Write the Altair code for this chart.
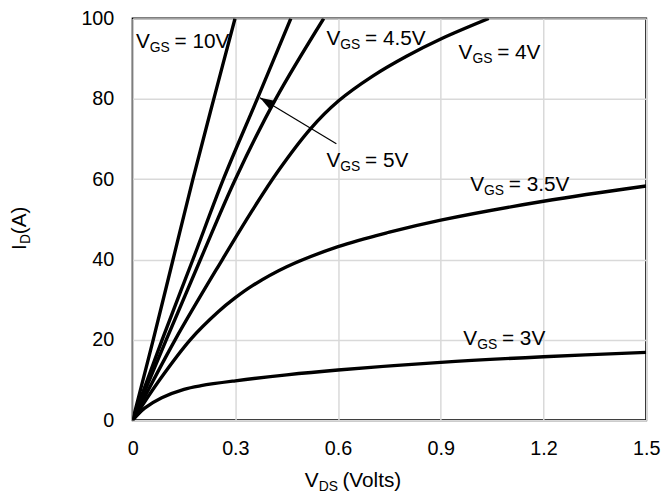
import altair as alt
import pandas as pd

FONT = "Arial"

# ---- curve data (VDS in volts, ID in amps) ----
id_levels = [0, 20, 40, 60, 80, 100]
vds_10v = [0, 0.060, 0.118, 0.176, 0.237, 0.299]
vds_5v = [0, 0.086, 0.176, 0.265, 0.364, 0.462]
vds_4p5v = [0, 0.098, 0.198, 0.300, 0.418, 0.558]
vds_4v = [0, 0.124, 0.262, 0.350, 0.423, 0.520, 0.600, 0.700, 0.800, 0.900, 1.040]
id_4v = [0, 20, 40, 52.3, 61.8, 72.6, 79.4, 85.6, 90.6, 94.9, 100]
vds_3p5v = [0, 0.08, 0.17, 0.25, 0.30, 0.35, 0.45, 0.60, 0.75, 0.90, 1.20, 1.50]
id_3p5v = [0, 10.2, 20.2, 27.0, 30.5, 33.5, 38.2, 43.2, 46.8, 49.8, 54.5, 58.3]
vds_3v = [0, 0.035, 0.085, 0.15, 0.20, 0.30, 0.45, 0.60, 0.90, 1.20, 1.50]
id_3v = [0, 3.0, 5.6, 7.7, 8.6, 9.8, 11.3, 12.5, 14.4, 15.8, 16.9]

x_ticks = [0, 0.3, 0.6, 0.9, 1.2, 1.5]
y_ticks = [0, 20, 40, 60, 80, 100]

# ---- curve labels ----
label_rest = ["= 10V", "= 4.5V", "= 4V", "= 5V", "= 3.5V", "= 3V"]
label_x = [0.0095, 0.566, 0.952, 0.566, 0.986, 0.966]
label_y = [92.6, 93.3, 90.0, 63.1, 57.1, 18.7]

# ---- arrow (points to VGS = 5V curve) ----
arrow_from = (0.595, 68.8)
arrow_to = (0.372, 80.3)

curves = [
    ("10V", vds_10v, id_levels),
    ("5V", vds_5v, id_levels),
    ("4.5V", vds_4p5v, id_levels),
    ("4V", vds_4v, id_4v),
    ("3.5V", vds_3p5v, id_3p5v),
    ("3V", vds_3v, id_3v),
]
rows = []
for name, xs, ys in curves:
    for xv, yv in zip(xs, ys):
        rows.append({"vgs": name, "vds": xv, "id": yv})
df = pd.DataFrame(rows)

labels = pd.DataFrame({"x": label_x, "y": label_y, "rest": label_rest})
arrow = pd.DataFrame({"x0": [arrow_from[0]], "y0": [arrow_from[1]],
                      "x1": [arrow_to[0]], "y1": [arrow_to[1]]})

xscale = alt.Scale(domain=[0, 1.5], nice=False, zero=False)
yscale = alt.Scale(domain=[0, 100], nice=False, zero=False)

xaxis = alt.Axis(values=x_ticks, format="~g", title=None, ticks=False, domain=False,
                 labelFont=FONT, labelFontSize=20, labelColor="black", labelPadding=19,
                 grid=True, gridColor="#d9d9d9", gridWidth=1.5, labelFlush=False)
yaxis = alt.Axis(values=y_ticks, title=None, ticks=False, domain=False,
                 labelFont=FONT, labelFontSize=20, labelColor="black", labelPadding=19,
                 grid=True, gridColor="#d9d9d9", gridWidth=1.5, labelFlush=False)


def X(field):
    return alt.X(field, type="quantitative", scale=xscale, axis=xaxis)


def Y(field):
    return alt.Y(field, type="quantitative", scale=yscale, axis=yaxis)


lines = alt.Chart(df).mark_line(color="black", strokeWidth=3.4, interpolate="catmull-rom", clip=True).encode(
    x=X("vds"), y=Y("id"), detail="vgs:N", order="vds:Q",
)

LSIZE = 21
SSIZE = 14
tbase = alt.Chart(labels).encode(x=X("x"), y=Y("y"))
t_main = tbase.mark_text(text="V", align="left", baseline="alphabetic", font=FONT, fontSize=LSIZE, color="black")
t_sub = tbase.mark_text(text="GS", align="left", baseline="alphabetic", font=FONT, fontSize=SSIZE, color="black",
                        dx=14, dy=4)
t_rest = tbase.mark_text(align="left", baseline="alphabetic", font=FONT, fontSize=LSIZE, color="black",
                         dx=39).encode(text="rest:N")

arrow_line = alt.Chart(arrow).mark_rule(color="black", strokeWidth=1.2).encode(
    x=X("x0"), y=Y("y0"), x2="x1:Q", y2="y1:Q")
arrow_head = alt.Chart(arrow).mark_point(shape="M0,0L-0.7,2L0.7,2Z", size=200, filled=True,
                                         color="black", opacity=1, strokeWidth=0, angle=301).encode(
    x=X("x1"), y=Y("y1"))

# axis titles with subscripts
tt = pd.DataFrame({"k": [0]})
xt_main = alt.Chart(tt).mark_text(text="V", align="left", baseline="alphabetic", font=FONT, fontSize=LSIZE,
                                  color="black").encode(x=alt.value(174), y=alt.value(474))
xt_sub = alt.Chart(tt).mark_text(text="DS", align="left", baseline="alphabetic", font=FONT, fontSize=SSIZE,
                                 color="black", dx=14, dy=4).encode(x=alt.value(174), y=alt.value(474))
xt_rest = alt.Chart(tt).mark_text(text="(Volts)", align="left", baseline="alphabetic", font=FONT, fontSize=LSIZE,
                                  color="black", dx=38).encode(x=alt.value(174), y=alt.value(474))
yt_main = alt.Chart(tt).mark_text(text="I", align="left", baseline="alphabetic", font=FONT, fontSize=LSIZE,
                                  color="black", angle=270).encode(x=alt.value(-108), y=alt.value(234))
yt_sub = alt.Chart(tt).mark_text(text="D", align="left", baseline="alphabetic", font=FONT, fontSize=SSIZE,
                                 color="black", angle=270, dx=6, dy=4).encode(x=alt.value(-108), y=alt.value(234))
yt_rest = alt.Chart(tt).mark_text(text="(A)", align="left", baseline="alphabetic", font=FONT, fontSize=LSIZE,
                                  color="black", angle=270, dx=16).encode(x=alt.value(-108), y=alt.value(234))

chart = alt.layer(
    lines, arrow_line, arrow_head, t_main, t_sub, t_rest,
    xt_main, xt_sub, xt_rest, yt_main, yt_sub, yt_rest,
).properties(
    width=519, height=406,
    autosize=alt.AutoSizeParams(type="none"),
    padding={"left": 126, "top": 8, "right": 16, "bottom": 74},
).configure_view(stroke="black", strokeWidth=2)

chart.save("out.html", embed_options={"renderer": "svg", "actions": False})
